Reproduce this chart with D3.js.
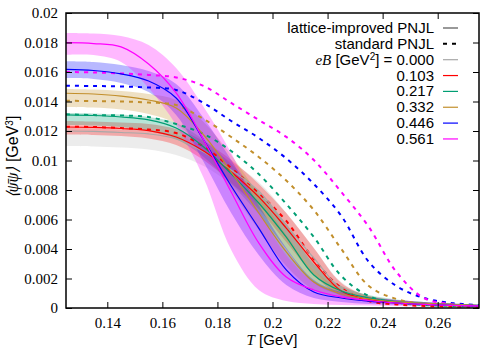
<!DOCTYPE html>
<html lang="en">
<head>
<meta charset="UTF-8">
<title>chiral condensate vs T</title>
<script src="https://d3js.org/d3.v7.min.js"></script>
<style>
  body {margin:0;background:#fff}
  .tick text {font-family:"Liberation Serif",serif;font-size:15px;fill:#000}
  .sans {font-family:"Liberation Sans",Arial,sans-serif}
  .serif {font-family:"Liberation Serif",serif}
</style>
</head>
<body>
<script>
// temperature grid (GeV)
var T = [0.125, 0.135, 0.145, 0.155, 0.165, 0.175, 0.185, 0.195, 0.205, 0.215, 0.225, 0.235, 0.245, 0.255, 0.265, 0.275];

var eBLabels = ["0.000", "0.103", "0.217", "0.332", "0.446", "0.561"];
var xTicks = [0.14, 0.16, 0.18, 0.2, 0.22, 0.24, 0.26];
var yTicks = [0, 0.002, 0.004, 0.006, 0.008, 0.01, 0.012, 0.014, 0.016, 0.018, 0.02];

// lattice-improved PNJL (central, lower, upper)
var lat000   = [0.01200, 0.01197, 0.01190, 0.01180, 0.01146, 0.01058, 0.00936, 0.00793, 0.00563, 0.00339, 0.00129, 0.00058, 0.00037, 0.00027, 0.00020, 0.00017];
var lat000Hi = [0.01220, 0.01217, 0.01210, 0.01200, 0.01173, 0.01098, 0.00990, 0.00854, 0.00644, 0.00407, 0.00176, 0.00081, 0.00051, 0.00037, 0.00027, 0.00020];
var lat000Lo = [0.01098, 0.01095, 0.01088, 0.01075, 0.01037, 0.00963, 0.00841, 0.00698, 0.00481, 0.00258, 0.00095, 0.00044, 0.00027, 0.00020, 0.00017, 0.00014];

var lat103   = [0.01227, 0.01224, 0.01217, 0.01203, 0.01159, 0.01064, 0.00922, 0.00753, 0.00542, 0.00312, 0.00115, 0.00058, 0.00037, 0.00027, 0.00020, 0.00017];
var lat103Hi = [0.01268, 0.01264, 0.01258, 0.01248, 0.01214, 0.01132, 0.01003, 0.00841, 0.00644, 0.00407, 0.00170, 0.00081, 0.00051, 0.00037, 0.00027, 0.00020];
var lat103Lo = [0.01176, 0.01173, 0.01166, 0.01149, 0.01105, 0.01003, 0.00848, 0.00671, 0.00447, 0.00224, 0.00081, 0.00041, 0.00027, 0.00020, 0.00017, 0.00014];

var lat217   = [0.01309, 0.01305, 0.01295, 0.01275, 0.01220, 0.01092, 0.00909, 0.00712, 0.00481, 0.00224, 0.00115, 0.00068, 0.00044, 0.00031, 0.00024, 0.00017];
var lat217Hi = [0.01322, 0.01319, 0.01312, 0.01295, 0.01254, 0.01139, 0.00976, 0.00786, 0.00570, 0.00298, 0.00149, 0.00088, 0.00058, 0.00041, 0.00031, 0.00024];
var lat217Lo = [0.01241, 0.01237, 0.01227, 0.01200, 0.01146, 0.01024, 0.00841, 0.00637, 0.00400, 0.00170, 0.00088, 0.00054, 0.00034, 0.00024, 0.00017, 0.00014];

var lat332   = [0.01456, 0.01451, 0.01437, 0.01410, 0.01356, 0.01173, 0.00922, 0.00644, 0.00380, 0.00176, 0.00095, 0.00061, 0.00041, 0.00031, 0.00024, 0.00017];
var lat332Hi = [0.01485, 0.01481, 0.01471, 0.01451, 0.01410, 0.01261, 0.01037, 0.00766, 0.00495, 0.00258, 0.00129, 0.00081, 0.00054, 0.00041, 0.00031, 0.00024];
var lat332Lo = [0.01363, 0.01359, 0.01346, 0.01315, 0.01248, 0.01071, 0.00800, 0.00529, 0.00285, 0.00122, 0.00068, 0.00047, 0.00031, 0.00020, 0.00017, 0.00014];

var lat446   = [0.01618, 0.01610, 0.01587, 0.01539, 0.01424, 0.01139, 0.00827, 0.00542, 0.00258, 0.00108, 0.00068, 0.00047, 0.00034, 0.00024, 0.00018, 0.00014];
var lat446Hi = [0.01673, 0.01668, 0.01648, 0.01607, 0.01519, 0.01288, 0.01003, 0.00698, 0.00407, 0.00190, 0.00108, 0.00075, 0.00054, 0.00041, 0.00031, 0.00024];
var lat446Lo = [0.01559, 0.01553, 0.01526, 0.01464, 0.01309, 0.00990, 0.00644, 0.00359, 0.00156, 0.00068, 0.00041, 0.00027, 0.00020, 0.00017, 0.00014, 0.00010];

var lat561   = [0.01799, 0.01793, 0.01770, 0.01654, 0.01458, 0.01139, 0.00786, 0.00441, 0.00210, 0.00122, 0.00075, 0.00051, 0.00034, 0.00024, 0.00018, 0.00014];
var lat561Hi = [0.01865, 0.01861, 0.01844, 0.01783, 0.01627, 0.01363, 0.01051, 0.00664, 0.00359, 0.00176, 0.00102, 0.00068, 0.00054, 0.00037, 0.00027, 0.00020];
var lat561Lo = [0.01717, 0.01715, 0.01668, 0.01492, 0.01241, 0.00881, 0.00393, 0.00122, 0.00047, 0.00027, 0.00020, 0.00017, 0.00014, 0.00012, 0.00010, 0.00009];

// standard PNJL
var std103 = [0.01229, 0.01227, 0.01220, 0.01210, 0.01186, 0.01095, 0.00949, 0.00780, 0.00590, 0.00332, 0.00136, 0.00047, 0.00024, 0.00014, 0.00010, 0.00007];
var std217 = [0.01313, 0.01308, 0.01305, 0.01295, 0.01247, 0.01180, 0.01064, 0.00908, 0.00705, 0.00481, 0.00217, 0.00081, 0.00037, 0.00020, 0.00014, 0.00010];
var std332 = [0.01405, 0.01403, 0.01400, 0.01393, 0.01376, 0.01281, 0.01159, 0.01024, 0.00864, 0.00664, 0.00400, 0.00149, 0.00061, 0.00027, 0.00017, 0.00010];
var std446 = [0.01507, 0.01505, 0.01502, 0.01495, 0.01478, 0.01390, 0.01268, 0.01153, 0.01014, 0.00841, 0.00624, 0.00312, 0.00149, 0.00068, 0.00034, 0.00020];
var std561 = [0.01600, 0.01597, 0.01590, 0.01580, 0.01563, 0.01505, 0.01390, 0.01275, 0.01160, 0.01003, 0.00786, 0.00549, 0.00244, 0.00068, 0.00027, 0.00014];

var colors = ["#c8c8c8", "#ff0000", "#009e73", "#c28f2c", "#0000ff", "#ff00ff"];
var lineColors = ["#a8a8a8", "#ff0000", "#009e73", "#c28f2c", "#0000ff", "#ff00ff"];

var lattice = [
    {mid: lat000, lo: lat000Lo, hi: lat000Hi},
    {mid: lat103, lo: lat103Lo, hi: lat103Hi},
    {mid: lat217, lo: lat217Lo, hi: lat217Hi},
    {mid: lat332, lo: lat332Lo, hi: lat332Hi},
    {mid: lat446, lo: lat446Lo, hi: lat446Hi},
    {mid: lat561, lo: lat561Lo, hi: lat561Hi}
];
var standard = [null, std103, std217, std332, std446, std561];

var pLeft = 66, pRight = 479, pTop = 13, pBottom = 308;

var svg = d3.select("body").append("svg")
    .attr("width", 500)
    .attr("height", 350);

var x = d3.scaleLinear().domain([0.125, 0.275]).range([pLeft, pRight]);
var y = d3.scaleLinear().domain([0, 0.02]).range([pBottom, pTop]);

svg.append("clipPath").attr("id", "clip")
    .append("rect")
    .attr("x", pLeft).attr("y", pTop)
    .attr("width", pRight - pLeft).attr("height", pBottom - pTop);

var plot = svg.append("g").attr("clip-path", "url(#clip)");

var smooth = d3.curveCatmullRom.alpha(0.5);

var area = d3.area()
    .x(d => x(d[0]))
    .y0(d => y(d[1]))
    .y1(d => y(d[2]))
    .curve(smooth);

var line = d3.line()
    .x(d => x(d[0]))
    .y(d => y(d[1]))
    .curve(smooth);

// bands
lattice.forEach(function(s, i) {
    plot.append("path")
        .datum(d3.zip(T, s.lo, s.hi))
        .attr("d", area)
        .attr("fill", colors[i])
        .attr("fill-opacity", i === 0 ? 0.35 : 0.28);
});

// standard PNJL, dashed
standard.forEach(function(s, i) {
    if (!s) return;
    plot.append("path")
        .datum(d3.zip(T, s))
        .attr("d", line)
        .attr("fill", "none")
        .attr("stroke", colors[i])
        .attr("stroke-width", 2)
        .attr("stroke-dasharray", "4,5");
});

// lattice-improved, solid
lattice.forEach(function(s, i) {
    plot.append("path")
        .datum(d3.zip(T, s.mid))
        .attr("d", line)
        .attr("fill", "none")
        .attr("stroke", lineColors[i])
        .attr("stroke-width", 1.2);
});

// axes with inward ticks on all four sides
var fmt = d3.format("~g");
svg.append("g")
    .attr("transform", `translate(0,${pBottom})`)
    .call(d3.axisBottom(x).tickValues(xTicks).tickFormat(fmt).tickSizeInner(-6).tickSizeOuter(0).tickPadding(9));
svg.append("g")
    .attr("transform", `translate(${pLeft},0)`)
    .call(d3.axisLeft(y).tickValues(yTicks).tickFormat(fmt).tickSizeInner(-6).tickSizeOuter(0).tickPadding(8));
svg.append("g")
    .attr("transform", `translate(0,${pTop})`)
    .call(d3.axisTop(x).tickValues(xTicks).tickFormat("").tickSizeInner(-6).tickSizeOuter(0));
svg.append("g")
    .attr("transform", `translate(${pRight},0)`)
    .call(d3.axisRight(y).tickValues(yTicks).tickFormat("").tickSizeInner(-6).tickSizeOuter(0));
svg.selectAll(".domain").remove();
svg.selectAll(".tick line").attr("stroke", "#000").attr("stroke-width", 1);

svg.append("rect")
    .attr("x", pLeft).attr("y", pTop)
    .attr("width", pRight - pLeft).attr("height", pBottom - pTop)
    .attr("fill", "none")
    .attr("stroke", "#000")
    .attr("stroke-width", 1.5);

// axis titles
var xt = svg.append("text")
    .attr("x", 272).attr("y", 345)
    .attr("text-anchor", "middle")
    .style("font-size", "15px");
xt.append("tspan").attr("class", "serif").style("font-style", "italic").text("T");
xt.append("tspan").attr("class", "sans").text(" [GeV]");

var yt = svg.append("text")
    .attr("transform", "translate(18,157) rotate(-90)")
    .attr("text-anchor", "middle")
    .style("font-size", "16px");
yt.append("tspan").attr("class", "serif").style("font-style", "italic").text("\u27E8\u03C8\u0304\u03C8\u27E9");
yt.append("tspan").attr("class", "sans").text(" [GeV");
yt.append("tspan").attr("class", "sans").attr("dy", -5).style("font-size", "10px").text("3");
yt.append("tspan").attr("class", "sans").attr("dy", 5).text("]");

// legend
var legX = 434, legLine0 = 443, legLine1 = 458, legY0 = 28, legDy = 15.85;
var leg = svg.append("g").style("font-size", "15px");

function legendRow(k) { return legY0 + k * legDy; }

leg.append("text").attr("class", "sans")
    .attr("x", legX).attr("y", legendRow(0) + 5).attr("text-anchor", "end")
    .text("lattice-improved PNJL");
leg.append("line")
    .attr("x1", legLine0).attr("x2", legLine1)
    .attr("y1", legendRow(0)).attr("y2", legendRow(0))
    .attr("stroke", "#555").attr("stroke-width", 1.2);

leg.append("text").attr("class", "sans")
    .attr("x", legX).attr("y", legendRow(1) + 5).attr("text-anchor", "end")
    .text("standard PNJL");
leg.append("line")
    .attr("x1", legLine0).attr("x2", legLine1)
    .attr("y1", legendRow(1)).attr("y2", legendRow(1))
    .attr("stroke", "#000").attr("stroke-width", 2)
    .attr("stroke-dasharray", "4,5");

eBLabels.forEach(function(lab, i) {
    var ry = legendRow(i + 2);
    var t = leg.append("text")
        .attr("x", legX).attr("y", ry + 5).attr("text-anchor", "end");
    if (i === 0) {
        t.append("tspan").attr("class", "serif").style("font-style", "italic").text("eB");
        t.append("tspan").attr("class", "sans").text(" [GeV");
        t.append("tspan").attr("class", "sans").attr("dy", -5).style("font-size", "10px").text("2");
        t.append("tspan").attr("class", "sans").attr("dy", 5).text("] = " + lab);
    } else {
        t.append("tspan").attr("class", "sans").text(lab);
    }
    leg.append("line")
        .attr("x1", legLine0).attr("x2", legLine1)
        .attr("y1", ry).attr("y2", ry)
        .attr("stroke", lineColors[i]).attr("stroke-width", 1.2);
});
</script>
</body>
</html>
